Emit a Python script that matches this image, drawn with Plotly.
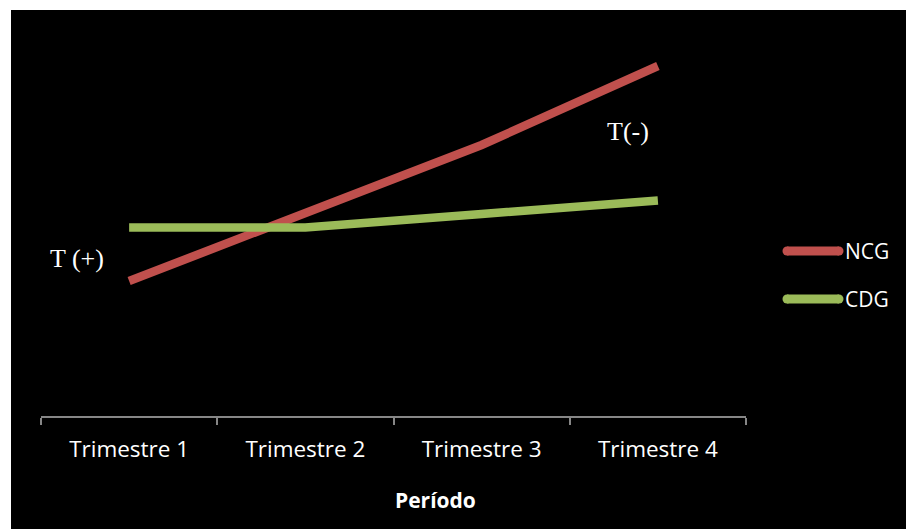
import plotly.graph_objects as go

# Quarterly series
periods = ["Trimestre 1", "Trimestre 2", "Trimestre 3", "Trimestre 4"]
ncg = [2.70, 4.04, 5.42, 7.00]
cdg = [3.77, 3.77, 4.04, 4.31]
series_names = ["NCG", "CDG"]
series_colors = ["#C0504D", "#9BBB59"]
axis_title = "Período"
label_pos = "T (+)"
label_neg = "T(-)"

W, H = 906, 529
ML, MR, MT, MB = 41, 160, 16, 113
PW, PH = W - ML - MR, H - MT - MB


def px_x(x):
    return (x - ML) / PW


def px_y(y):
    return (H - MB - y) / PH


fig = go.Figure()
for name, vals, col in zip(series_names, [ncg, cdg], series_colors):
    fig.add_trace(go.Scatter(
        x=periods, y=vals, name=name, mode="lines",
        line=dict(color=col, width=8.5),
        showlegend=False,
    ))

shapes = [
    # white frame at top and left edges
    dict(type="rect", xref="paper", yref="paper", x0=-0.2, x1=1.4,
         y0=px_y(10), y1=1.2, fillcolor="white", line_width=0, layer="above"),
    dict(type="rect", xref="paper", yref="paper", x0=-0.2, x1=px_x(11),
         y0=-0.5, y1=1.2, fillcolor="white", line_width=0, layer="above"),
]

annotations = [
    dict(text=label_pos, x=px_x(77), y=px_y(258), xref="paper", yref="paper",
         showarrow=False, xanchor="center", yanchor="middle",
         font=dict(family="Liberation Serif", size=26, color="white")),
    dict(text=label_neg, x=px_x(628), y=px_y(131), xref="paper", yref="paper",
         showarrow=False, xanchor="center", yanchor="middle",
         font=dict(family="Liberation Serif", size=26, color="white")),
    dict(text="<b>" + axis_title + "</b>", x=px_x(435), y=px_y(500),
         xref="paper", yref="paper", showarrow=False,
         xanchor="center", yanchor="middle",
         font=dict(family="Open Sans", size=21, color="white")),
]

# legend drawn as line samples with labels
leg_y = [251, 299]
for name, col, ly in zip(series_names, series_colors, leg_y):
    shapes.append(dict(type="line", xref="paper", yref="paper",
                       x0=px_x(787), x1=px_x(839), y0=px_y(ly), y1=px_y(ly),
                       line=dict(color=col, width=9)))
    for cx in (787, 839):
        shapes.append(dict(type="circle", xref="paper", yref="paper",
                           x0=px_x(cx - 4.5), x1=px_x(cx + 4.5),
                           y0=px_y(ly + 4.5), y1=px_y(ly - 4.5),
                           fillcolor=col, line_width=0))
    annotations.append(dict(text=name, x=px_x(843), y=px_y(ly), xref="paper",
                            yref="paper", showarrow=False, xanchor="left",
                            yanchor="middle",
                            font=dict(family="Open Sans", size=21, color="white")))

fig.update_layout(
    width=W, height=H,
    margin=dict(l=ML, r=MR, t=MT, b=MB),
    paper_bgcolor="black", plot_bgcolor="black",
    showlegend=False,
    xaxis=dict(type="category", range=[-0.5, 3.5], tickson="boundaries",
               ticks="outside", ticklen=7, tickcolor="#868686", tickwidth=1.5,
               showline=True, linecolor="#868686", linewidth=1.5,
               showgrid=False, zeroline=False, ticklabelstandoff=12,
               tickfont=dict(family="Open Sans", size=22.5, color="white")),
    yaxis=dict(range=[0, 8], visible=False, showgrid=False, zeroline=False),
    shapes=shapes,
    annotations=annotations,
)

fig.write_html("out.html")
